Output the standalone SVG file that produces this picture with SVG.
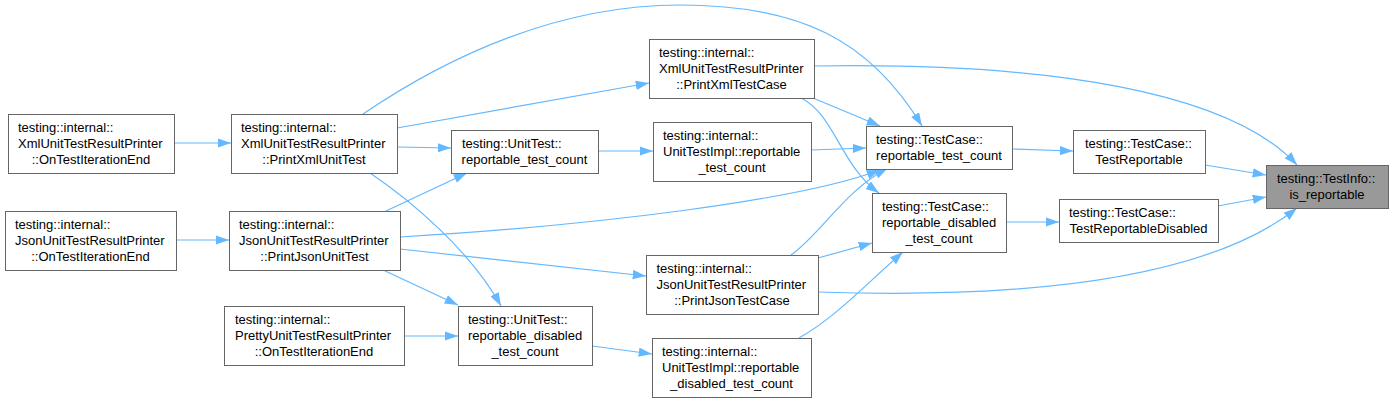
<svg xmlns="http://www.w3.org/2000/svg" width="1393" height="402" viewBox="0 0 1393 402">
<style>
.node rect{fill:#ffffff;stroke:#666666;stroke-width:1}
.node.hl rect{fill:#999999}
.node text{font-family:"Liberation Sans",Arial,sans-serif;font-size:13px;fill:#000000}
.c{text-anchor:middle}
.edges path{fill:none;stroke:#63b8ff;stroke-width:1.2;marker-end:url(#ah)}
</style>
<defs>
<marker id="ah" markerUnits="userSpaceOnUse" markerWidth="15" markerHeight="11" refX="13.3" refY="4.67" orient="auto">
<path d="M0,0 L13.3,4.67 L0,9.33 z" fill="#63b8ff" stroke="none"/>
</marker>
</defs>
<rect width="1393" height="402" fill="#ffffff"/>
<g class="edges" id="edges">
<path d="M174,143 L231,143"/>
<path d="M176,240 L229,240"/>
<path d="M404,336 L458,336"/>
<path d="M397,128 L649,83"/>
<path d="M397,147 L451,148"/>
<path d="M386,211 L467,173"/>
<path d="M370,173 C410,200 470,250 501,306"/>
<path d="M381,269 L458,305"/>
<path d="M400,249 L646,276"/>
<path d="M400,237 C600,225 800,200 880,170"/>
<path d="M791,255 C820,235 845,190 888,168"/>
<path d="M813,98 L880,126"/>
<path d="M801,98 C835,115 840,165 879,193"/>
<path d="M811,150 L866,148"/>
<path d="M598,151 L653,151"/>
<path d="M592,346 L652,354"/>
<path d="M818,258 L872,243"/>
<path d="M799,338 C835,318 865,285 903,252"/>
<path d="M818,292 C1000,298 1200,285 1297,208"/>
<path d="M814,66 C1050,62 1230,92 1297,165"/>
<path d="M1205,165 L1266,175"/>
<path d="M1218,206 L1266,197"/>
<path d="M1012,149 L1073,151"/>
<path d="M1006,222 L1059,222"/>
<path d="M363,114 C450,55 560,5 680,5 C800,5 870,40 922,126"/>
</g>
<g class="node hl" id="node_is_reportable">
<rect x="1266.5" y="165.5" width="122" height="43"/>
<text x="1277" y="183">testing::TestInfo::</text>
<text class="c" x="1327" y="199">is_reportable</text>
</g>
<g class="node" id="node_TestReportable">
<rect x="1073.5" y="130.5" width="132" height="43"/>
<text x="1085" y="148">testing::TestCase::</text>
<text class="c" x="1139" y="164">TestReportable</text>
</g>
<g class="node" id="node_TestReportableDisabled">
<rect x="1059.5" y="199.5" width="159" height="43"/>
<text x="1069" y="217">testing::TestCase::</text>
<text class="c" x="1138.5" y="233">TestReportableDisabled</text>
</g>
<g class="node" id="node_TestCase_reportable_test_count">
<rect x="866.5" y="126.5" width="146" height="43"/>
<text x="876" y="144">testing::TestCase::</text>
<text class="c" x="939" y="160">reportable_test_count</text>
</g>
<g class="node" id="node_TestCase_reportable_disabled_test_count">
<rect x="872.5" y="193.5" width="134" height="59"/>
<text x="882" y="211">testing::TestCase::</text>
<text x="882" y="227">reportable_disabled</text>
<text class="c" x="939" y="243">_test_count</text>
</g>
<g class="node" id="node_PrintXmlTestCase">
<rect x="649.5" y="39.5" width="165" height="59"/>
<text x="659" y="57">testing::internal::</text>
<text x="659" y="73">XmlUnitTestResultPrinter</text>
<text class="c" x="731.5" y="89">::PrintXmlTestCase</text>
</g>
<g class="node" id="node_UnitTestImpl_reportable_test_count">
<rect x="653.5" y="122.5" width="158" height="59"/>
<text x="663" y="140">testing::internal::</text>
<text x="663" y="156">UnitTestImpl::reportable</text>
<text class="c" x="732" y="172">_test_count</text>
</g>
<g class="node" id="node_UnitTest_reportable_test_count">
<rect x="451.5" y="130.5" width="147" height="43"/>
<text x="462" y="148">testing::UnitTest::</text>
<text class="c" x="524.5" y="164">reportable_test_count</text>
</g>
<g class="node" id="node_PrintXmlUnitTest">
<rect x="231.5" y="114.5" width="166" height="59"/>
<text x="241" y="132">testing::internal::</text>
<text x="241" y="148">XmlUnitTestResultPrinter</text>
<text class="c" x="314" y="164">::PrintXmlUnitTest</text>
</g>
<g class="node" id="node_Xml_OnTestIterationEnd">
<rect x="8.5" y="114.5" width="166" height="59"/>
<text x="18" y="132">testing::internal::</text>
<text x="18" y="148">XmlUnitTestResultPrinter</text>
<text class="c" x="91" y="164">::OnTestIterationEnd</text>
</g>
<g class="node" id="node_Json_OnTestIterationEnd">
<rect x="5.5" y="211.5" width="171" height="59"/>
<text x="15" y="229">testing::internal::</text>
<text x="15" y="245">JsonUnitTestResultPrinter</text>
<text class="c" x="90.5" y="261">::OnTestIterationEnd</text>
</g>
<g class="node" id="node_PrintJsonUnitTest">
<rect x="229.5" y="211.5" width="171" height="59"/>
<text x="239" y="229">testing::internal::</text>
<text x="239" y="245">JsonUnitTestResultPrinter</text>
<text class="c" x="314.5" y="261">::PrintJsonUnitTest</text>
</g>
<g class="node" id="node_Pretty_OnTestIterationEnd">
<rect x="224.5" y="306.5" width="180" height="59"/>
<text x="235" y="324">testing::internal::</text>
<text x="235" y="340">PrettyUnitTestResultPrinter</text>
<text class="c" x="314" y="356">::OnTestIterationEnd</text>
</g>
<g class="node" id="node_UnitTest_reportable_disabled_test_count">
<rect x="458.5" y="306.5" width="134" height="59"/>
<text x="468" y="324">testing::UnitTest::</text>
<text x="468" y="340">reportable_disabled</text>
<text class="c" x="525" y="356">_test_count</text>
</g>
<g class="node" id="node_PrintJsonTestCase">
<rect x="646.5" y="255.5" width="172" height="59"/>
<text x="656.5" y="273">testing::internal::</text>
<text x="656.5" y="289">JsonUnitTestResultPrinter</text>
<text class="c" x="732" y="305">::PrintJsonTestCase</text>
</g>
<g class="node" id="node_UnitTestImpl_reportable_disabled_test_count">
<rect x="652.5" y="338.5" width="159" height="59"/>
<text x="662" y="356">testing::internal::</text>
<text x="662" y="372">UnitTestImpl::reportable</text>
<text class="c" x="731.5" y="388">_disabled_test_count</text>
</g>
</svg>
